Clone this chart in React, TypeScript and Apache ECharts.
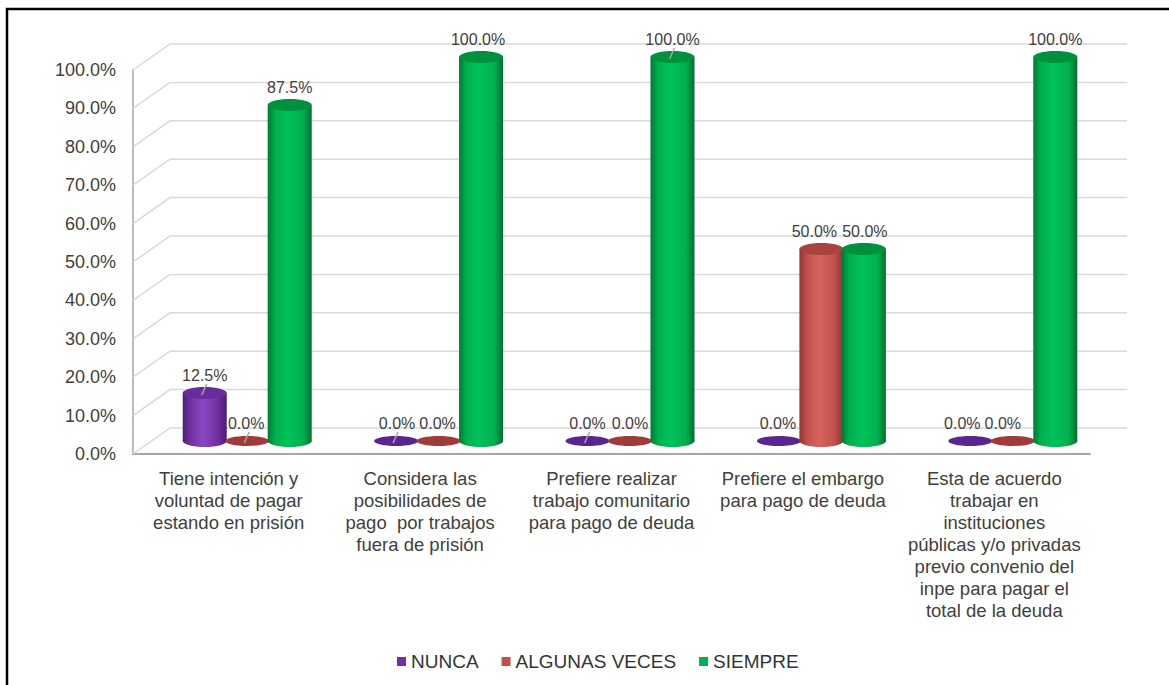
import React, { useEffect, useRef } from "react";
import * as echarts from "echarts";

const categories = [
  "Tiene intención y\nvoluntad de pagar\nestando en prisión",
  "Considera las\nposibilidades de\npago  por trabajos\nfuera de prisión",
  "Prefiere realizar\ntrabajo comunitario\npara pago de deuda",
  "Prefiere el embargo\npara pago de deuda",
  "Esta de acuerdo\ntrabajar en\ninstituciones\npúblicas y/o privadas\nprevio convenio del\ninpe para pagar el\ntotal de la deuda",
];
const seriesNames = ["NUNCA", "ALGUNAS VECES", "SIEMPRE"];
const nunca = [0.125, 0, 0, 0, 0];
const algunasVeces = [0, 0, 0, 0.5, 0];
const siempre = [0.875, 1, 1, 0.5, 1];
const yTicks = [0, 0.1, 0.2, 0.3, 0.4, 0.5, 0.6, 0.7, 0.8, 0.9, 1.0];
const nuncaLeader = [true, true, true, false, false];
const algunasLeader = [true, false, false, false, false];
const siempreLeader = [false, false, true, false, false];

const FONT = '"Liberation Sans", Arial, sans-serif';
const TEXT = "#404040";
const DEPTH_X = 37;
const DEPTH_Y = -26;

// label nudges (px) per series/category, as Excel moves overlapping labels apart
const labelNudge = [
  [0, 1, 0, -1, -8],
  [-1, -1, 0, -7, -10],
  [0, -3, 0, 1, 0],
];

const palettes = [
  { base: "#7030A0", edgeL: "#4e1f77", mid: "#8b47c4", edgeR: "#4a1c70", top: "#6a2c9a", disc: "#5b2590" },
  { base: "#C0504D", edgeL: "#8f3633", mid: "#d9625e", edgeR: "#8a3330", top: "#a84340", disc: "#a03b37" },
  { base: "#00B050", edgeL: "#007a36", mid: "#00c25a", edgeR: "#006f31", top: "#00913f", disc: "#00a048" },
];

function bodyGradient(p: any) {
  return new echarts.graphic.LinearGradient(0, 0, 1, 0, [
    { offset: 0, color: p.edgeL },
    { offset: 0.18, color: p.base },
    { offset: 0.45, color: p.mid },
    { offset: 0.8, color: p.base },
    { offset: 1, color: p.edgeR },
  ]);
}

function makeBarSeries(sIdx: number, values: number[], leaders: boolean[]) {
  const p = palettes[sIdx];
  return {
    type: "custom",
    name: seriesNames[sIdx],
    coordinateSystem: "cartesian2d",
    clip: false,
    z: 3 + sIdx,
    itemStyle: { color: p.base },
    encode: { x: 0, y: 1 },
    data: values.map((v, i) => [i, v]),
    renderItem: (params: any, api: any) => {
      const idx = api.value(0);
      const v = api.value(1);
      const front = api.coord([idx, v]);
      const baseFront = api.coord([idx, 0]);
      const band = api.size([1, 0])[0];
      const cx = front[0] + DEPTH_X / 2 + (sIdx - 1) * band * 0.222;
      const w = band * 0.23;
      const rx = w / 2;
      const ry = 6;
      const top = front[1] + DEPTH_Y / 2;
      const base = baseFront[1] + DEPTH_Y / 2;
      const children: any[] = [];
      if (v > 0) {
        children.push({
          type: "ellipse",
          shape: { cx, cy: base, rx, ry },
          style: { fill: bodyGradient(p) },
        });
        children.push({
          type: "rect",
          shape: { x: cx - rx, y: top, width: w, height: base - top },
          style: { fill: bodyGradient(p) },
        });
        children.push({
          type: "ellipse",
          shape: { cx, cy: top, rx, ry },
          style: { fill: p.top },
        });
      } else {
        children.push({
          type: "ellipse",
          shape: { cx, cy: base, rx, ry: 5 },
          style: { fill: p.disc },
        });
      }
      if (leaders[idx]) {
        children.push({
          type: "line",
          shape: { x1: cx + 2, y1: top - 9, x2: cx - 3, y2: top + 2 },
          style: { stroke: "#a6a6a6", lineWidth: 1.5 },
        });
      }
      children.push({
        type: "text",
        style: {
          text: (v * 100).toFixed(1) + "%",
          x: cx + labelNudge[sIdx][idx],
          y: top - 18,
          align: "center",
          verticalAlign: "middle",
          fill: TEXT,
          font: `16px ${FONT}`,
        },
      });
      return { type: "group", children };
    },
  };
}

const gridSeries = {
  type: "custom",
  name: "grid3d",
  coordinateSystem: "cartesian2d",
  clip: false,
  silent: true,
  z: 1,
  encode: { x: 0, y: 1 },
  data: yTicks.map((t) => [0, t]),
  renderItem: (params: any, api: any) => {
    const cs = params.coordSys;
    const y = api.coord([0, api.value(1)])[1];
    const x0 = cs.x;
    const x1 = cs.x + cs.width;
    return {
      type: "polyline",
      shape: {
        points: [
          [x0, y],
          [x0 + DEPTH_X, y + DEPTH_Y],
          [x1 + DEPTH_X, y + DEPTH_Y],
        ],
      },
      style: { stroke: "#d9d9d9", lineWidth: 1.5, fill: "none" },
    };
  },
};

export default function App() {
  const ref = useRef<HTMLDivElement>(null);
  useEffect(() => {
    if (!ref.current) return;
    const chart = echarts.init(ref.current, null, { renderer: "svg" });
    chart.setOption({
      animation: false,
      backgroundColor: "#ffffff",
      graphic: [
        {
          type: "rect",
          shape: { x: 7, y: 9, width: 1175, height: 700 },
          style: { fill: "none", stroke: "#000000", lineWidth: 2.5 },
          silent: true,
          z: 100,
        },
      ],
      legend: {
        data: seriesNames,
        icon: "rect",
        itemWidth: 9,
        itemHeight: 9,
        itemGap: 23,
        left: 392,
        top: 647,
        textStyle: { fontFamily: FONT, fontSize: 19, color: "#333333" },
      },
      grid: { left: 133, right: 79, top: 70, bottom: 231, containLabel: false },
      xAxis: {
        type: "category",
        data: categories,
        axisLine: { show: true, lineStyle: { color: "#a6a6a6", width: 2 } },
        axisTick: { show: false },
        axisLabel: {
          interval: 0,
          margin: 13,
          fontFamily: FONT,
          fontSize: 18.5,
          lineHeight: 22,
          color: TEXT,
          align: "center",
        },
        splitLine: { show: false },
      },
      yAxis: {
        type: "value",
        min: 0,
        max: 1,
        interval: 0.1,
        axisLine: { show: true, lineStyle: { color: "#a6a6a6", width: 1.5 } },
        axisTick: { show: false },
        splitLine: { show: false },
        axisLabel: {
          margin: 17,
          fontFamily: FONT,
          fontSize: 18,
          color: TEXT,
          formatter: (v: number) => (v * 100).toFixed(1) + "%",
        },
      },
      series: [
        gridSeries,
        makeBarSeries(0, nunca, nuncaLeader),
        makeBarSeries(1, algunasVeces, algunasLeader),
        makeBarSeries(2, siempre, siempreLeader),
      ],
    });
    return () => chart.dispose();
  }, []);
  return (
    <div
      ref={ref}
      style={{ position: "fixed", left: 0, top: 0, width: 1169, height: 685 }}
    />
  );
}
